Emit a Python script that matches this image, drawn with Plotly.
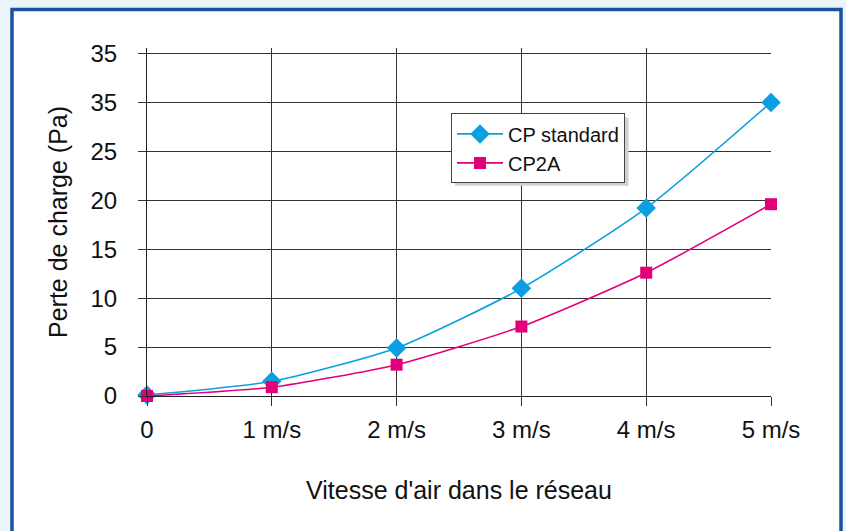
import plotly.graph_objects as go

# Air speed categories (m/s) and pressure drop readings
speeds = [0, 1, 2, 3, 4, 5]
x_tick_labels = ["0", "1 m/s", "2 m/s", "3 m/s", "4 m/s", "5 m/s"]
cp_standard = [0.1, 1.5, 4.9, 11.0, 19.2, 30.0]
cp2a = [0.0, 0.9, 3.2, 7.1, 12.6, 19.6]
y_tick_values = [0, 5, 10, 15, 20, 25, 30, 35]
y_tick_labels = ["0", "5", "10", "15", "20", "25", "35", "35"]

FONT = "Liberation Sans, Arial, Helvetica, sans-serif"
BLUE = "#0b9fe0"
PINK = "#e2007a"

fig = go.Figure()
fig.add_trace(go.Scatter(
    x=speeds, y=cp_standard, name="CP standard", mode="lines+markers",
    line=dict(color=BLUE, width=1.6, shape="spline", smoothing=0.6),
    marker=dict(symbol="diamond", size=15, color=BLUE),
    cliponaxis=False,
))
fig.add_trace(go.Scatter(
    x=speeds, y=cp2a, name="CP2A", mode="lines+markers",
    line=dict(color=PINK, width=1.6, shape="spline", smoothing=0.6),
    marker=dict(symbol="square", size=12, color=PINK),
    cliponaxis=False,
))

L, R, T, B = 147, 75, 47.5, 135
W, H = 846, 531
pw, ph = W - L - R, H - T - B


def px(xp):
    return (xp - L) / pw


def py(yp):
    return (H - B - yp) / ph


shapes = [
    # white card with dark blue border
    dict(type="rect", xref="paper", yref="paper", layer="below",
         x0=px(12), x1=px(841), y0=py(9), y1=py(560),
         fillcolor="white", line=dict(color="#1a52a0", width=3.5)),
    # legend drop shadow
    dict(type="rect", xref="paper", yref="paper", layer="above",
         x0=px(455), x1=px(628.5), y0=py(117), y1=py(185.5),
         fillcolor="#d0d0d0", line=dict(width=0)),
]

fig.update_layout(
    width=W, height=H,
    margin=dict(l=L, r=R, t=T, b=B, pad=0),
    paper_bgcolor="#eaf4fb",
    plot_bgcolor="rgba(0,0,0,0)",
    font=dict(family=FONT, color="#111111"),
    shapes=shapes,
    showlegend=True,
    legend=dict(
        x=px(451), y=py(113), xanchor="left", yanchor="top",
        bgcolor="white", bordercolor="#444444", borderwidth=1,
        font=dict(size=20, family=FONT, color="#111111"),
        itemwidth=46,
    ),
    xaxis=dict(
        range=[0, 5], tickmode="array", tickvals=speeds, ticktext=x_tick_labels,
        showgrid=True, gridcolor="#333333", gridwidth=1,
        showline=True, linecolor="#222222", linewidth=1,
        ticks="outside", ticklen=9, tickcolor="#333333",
        tickfont=dict(size=24, family=FONT), ticklabelstandoff=3,
        zeroline=False,
        title=dict(text="Vitesse d'air dans le réseau",
                   font=dict(size=25, family=FONT), standoff=39),
    ),
    yaxis=dict(
        range=[0, 35.56], tickmode="array", tickvals=y_tick_values,
        ticktext=y_tick_labels,
        showgrid=True, gridcolor="#333333", gridwidth=1,
        showline=True, linecolor="#222222", linewidth=1,
        ticks="outside", ticklen=8, tickcolor="#333333",
        tickfont=dict(size=24, family=FONT), ticklabelstandoff=16,
        zeroline=False,
        title=dict(text="Perte de charge (Pa)",
                   font=dict(size=25, family=FONT), standoff=15),
    ),
)

fig.write_html("out.html")
